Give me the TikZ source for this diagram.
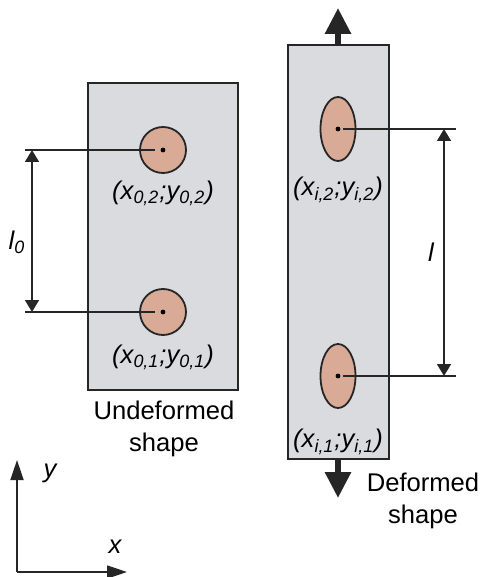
\documentclass[tikz,border=0pt]{standalone}
\usepackage{fontspec}
\setmainfont{Liberation Sans}
\usepackage{xcolor}
\usetikzlibrary{shapes.geometric, arrows.meta}

\definecolor{platefill}{RGB}{218,219,222}
\definecolor{spotfill}{RGB}{217,170,150}

\begin{document}
\begin{tikzpicture}[x=0.5pt, y=-0.5pt,
  plate/.style={draw=black!85, fill=platefill, line width=1pt, inner sep=0pt},
  spot/.style={draw=black!85, fill=spotfill, line width=0.9pt, inner sep=0pt},
  coordtext/.style={font=\fontsize{12.8}{15}\selectfont\itshape, inner sep=1pt},
  caption/.style={font=\fontsize{12.8}{16}\selectfont, align=center, inner sep=1pt},
  dimline/.style={line width=0.8pt, draw=black!85},
  dimarrow/.style={{Triangle[length=6pt, width=7pt]}-{Triangle[length=6pt, width=7pt]}, line width=0.8pt, draw=black!85},
  force/.style={-{Triangle[length=13pt, width=12.5pt]}, line width=3pt, draw=black!85},
  axis/.style={-{Triangle[length=10pt, width=6.5pt]}, line width=0.9pt, draw=black!85}
]
  \useasboundingbox (0,0) rectangle (482,577);

  % Undeformed (Left)
  \node[plate, minimum width=75pt, minimum height=153.5pt] (plate0) at (163,236.5) {};
  \node[spot, circle, minimum size=23pt] (spot02) at (163,150) {};
  \node[spot, circle, minimum size=23pt] (spot01) at (163,312) {};
  \fill (spot02.center) circle[radius=1.2pt];
  \fill (spot01.center) circle[radius=1.2pt];
  \node[coordtext] (lab02) at (163,193) {(x\textsubscript{0,2};y\textsubscript{0,2})};
  \node[coordtext] (lab01) at (163,357) {(x\textsubscript{0,1};y\textsubscript{0,1})};
  \node[caption] (cap0) at (164,429) {Undeformed\\shape};

  \coordinate (dimtop0) at (25,150);
  \coordinate (dimbot0) at (25,312);
  \coordinate (arrtop0) at (32,150);
  \coordinate (arrbot0) at (32,312);
  \draw[dimline, shorten >=4pt] (dimtop0) -- (spot02.center);
  \draw[dimline, shorten >=4pt] (dimbot0) -- (spot01.center);
  \draw[dimarrow] (arrtop0) -- (arrbot0);
  \node[coordtext] (len0) at (17,242) {l\textsubscript{0}};

  % Deformed (Right)
  \node[plate, minimum width=50.5pt, minimum height=207pt] (platei) at (338.5,252) {};
  \node[spot, ellipse, minimum width=17.5pt, minimum height=32pt] (spoti2) at (338,129) {};
  \node[spot, ellipse, minimum width=17.5pt, minimum height=32pt] (spoti1) at (338,376) {};
  \fill (spoti2.center) circle[radius=1.2pt];
  \fill (spoti1.center) circle[radius=1.2pt];
  \node[coordtext] (labi2) at (338,190) {(x\textsubscript{i,2};y\textsubscript{i,2})};
  \node[coordtext] (labi1) at (338,442) {(x\textsubscript{i,1};y\textsubscript{i,1})};
  \node[caption] (capi) at (423,501) {Deformed\\shape};

  \coordinate (dimtopi) at (456,129);
  \coordinate (dimboti) at (456,376);
  \coordinate (arrtopi) at (444,129);
  \coordinate (arrboti) at (444,376);
  \draw[dimline, shorten <=2.5pt] (spoti2.center) -- (dimtopi);
  \draw[dimline, shorten <=2.5pt] (spoti1.center) -- (dimboti);
  \draw[dimarrow] (arrtopi) -- (arrboti);
  \node[coordtext] (leni) at (431,252) {l};

  % Load
  \coordinate (pulltop) at (338,8);
  \coordinate (pullbot) at (338,498);
  \draw[force] (platei.north -| pulltop) -- (pulltop);
  \draw[force] (platei.south -| pullbot) -- (pullbot);

  % Axes
  \coordinate (origin) at (17,572);
  \coordinate (ytip) at (17,460);
  \coordinate (xtip) at (127,572);
  \draw[axis] (origin) -- (ytip);
  \draw[axis] (origin) -- (xtip);
  \node[coordtext] (ylab) at (50,473) {y};
  \node[coordtext] (xlab) at (115,547) {x};

\end{tikzpicture}
\end{document}
